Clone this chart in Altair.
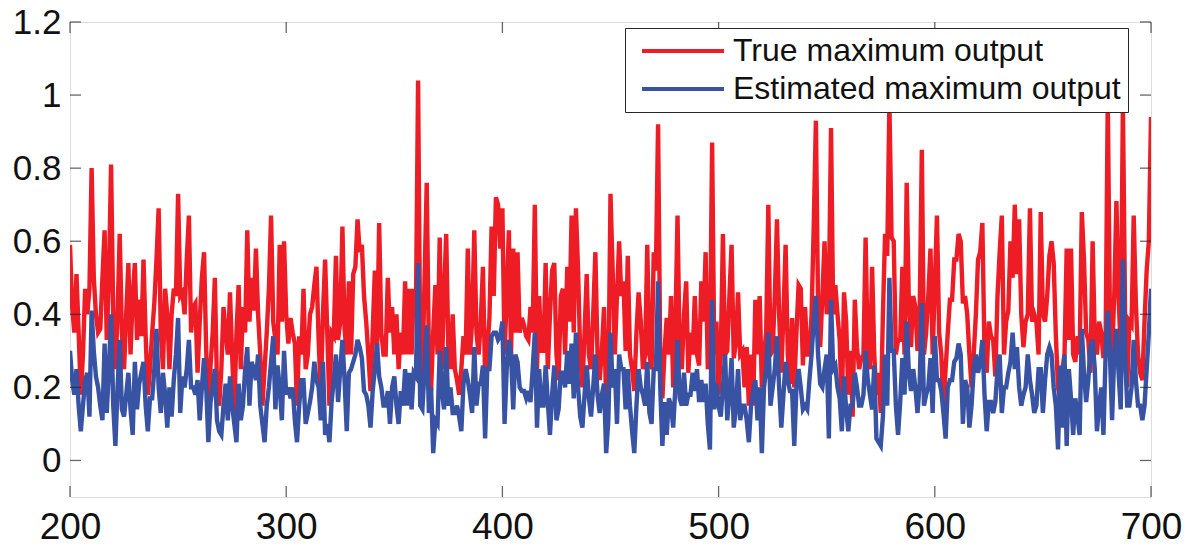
import altair as alt
import pandas as pd

x_vals = list(range(200, 701))

true_max = [
    0.59, 0.42, 0.35, 0.51, 0.35, 0.18, 0.29, 0.47, 0.40, 0.47,
    0.80, 0.50, 0.40, 0.35, 0.36, 0.50, 0.63, 0.33, 0.50, 0.81,
    0.40, 0.25, 0.40, 0.62, 0.35, 0.25, 0.40, 0.54, 0.29, 0.45,
    0.54, 0.33, 0.44, 0.34, 0.55, 0.34, 0.18, 0.25, 0.35, 0.43,
    0.55, 0.69, 0.35, 0.25, 0.47, 0.40, 0.25, 0.40, 0.47, 0.45,
    0.73, 0.45, 0.46, 0.40, 0.55, 0.67, 0.35, 0.42, 0.43, 0.24,
    0.38, 0.50, 0.57, 0.30, 0.13, 0.26, 0.35, 0.50, 0.20, 0.15,
    0.25, 0.42, 0.35, 0.29, 0.46, 0.29, 0.13, 0.35, 0.48, 0.25,
    0.42, 0.35, 0.63, 0.38, 0.50, 0.41, 0.58, 0.40, 0.29, 0.15,
    0.25, 0.35, 0.47, 0.67, 0.38, 0.33, 0.29, 0.59, 0.38, 0.60,
    0.40, 0.32, 0.39, 0.35, 0.32, 0.15, 0.34, 0.29, 0.47, 0.25,
    0.29, 0.40, 0.42, 0.48, 0.53, 0.33, 0.18, 0.40, 0.55, 0.35,
    0.15, 0.35, 0.34, 0.56, 0.33, 0.38, 0.64, 0.36, 0.29, 0.49,
    0.29, 0.51, 0.53, 0.66, 0.57, 0.59, 0.45, 0.38, 0.29, 0.19,
    0.35, 0.52, 0.29, 0.65, 0.35, 0.29, 0.29, 0.50, 0.35, 0.42,
    0.29, 0.40, 0.25, 0.35, 0.29, 0.49, 0.29, 0.47, 0.29, 0.47,
    0.41, 1.04, 0.29, 0.22, 0.50, 0.76, 0.29, 0.19, 0.35, 0.48,
    0.29, 0.61, 0.25, 0.45, 0.62, 0.31, 0.25, 0.40, 0.25, 0.22,
    0.18, 0.25, 0.34, 0.29, 0.58, 0.29, 0.38, 0.63, 0.35, 0.29,
    0.38, 0.53, 0.22, 0.30, 0.39, 0.64, 0.45, 0.72, 0.70, 0.58,
    0.69, 0.29, 0.45, 0.63, 0.29, 0.58, 0.35, 0.57, 0.35, 0.39,
    0.37, 0.34, 0.33, 0.42, 0.35, 0.70, 0.25, 0.45, 0.30, 0.30,
    0.54, 0.25, 0.40, 0.52, 0.54, 0.29, 0.22, 0.45, 0.47, 0.29,
    0.53, 0.38, 0.67, 0.35, 0.69, 0.52, 0.29, 0.20, 0.35, 0.51,
    0.29, 0.25, 0.40, 0.57, 0.29, 0.22, 0.30, 0.42, 0.15, 0.20,
    0.73, 0.52, 0.29, 0.45, 0.60, 0.45, 0.49, 0.30, 0.56, 0.29,
    0.25, 0.19, 0.35, 0.46, 0.38, 0.25, 0.29, 0.59, 0.29, 0.25,
    0.57, 0.52, 0.92, 0.29, 0.17, 0.30, 0.39, 0.29, 0.45, 0.20,
    0.36, 0.67, 0.29, 0.25, 0.40, 0.49, 0.24, 0.35, 0.29, 0.45,
    0.29, 0.26, 0.49, 0.38, 0.57, 0.25, 0.29, 0.87, 0.29, 0.38,
    0.18, 0.29, 0.62, 0.29, 0.30, 0.45, 0.59, 0.28, 0.32, 0.46,
    0.29, 0.30, 0.20, 0.31, 0.15, 0.29, 0.15, 0.44, 0.29, 0.45,
    0.20, 0.29, 0.35, 0.70, 0.29, 0.30, 0.45, 0.66, 0.40, 0.24,
    0.40, 0.59, 0.29, 0.21, 0.39, 0.20, 0.35, 0.48, 0.47, 0.26,
    0.42, 0.29, 0.29, 0.40, 0.64, 0.93, 0.43, 0.31, 0.45, 0.60,
    0.40, 0.45, 0.91, 0.40, 0.48, 0.40, 0.33, 0.14, 0.46, 0.38,
    0.18, 0.30, 0.12, 0.44, 0.31, 0.25, 0.28, 0.29, 0.61, 0.29,
    0.25, 0.53, 0.29, 0.18, 0.24, 0.13, 0.40, 0.62, 0.56, 0.98,
    0.61, 0.60, 0.29, 0.33, 0.33, 0.53, 0.29, 0.76, 0.43, 0.31,
    0.45, 0.42, 0.30, 0.40, 0.85, 0.29, 0.35, 0.45, 0.58, 0.29,
    0.48, 0.67, 0.35, 0.29, 0.15, 0.25, 0.35, 0.44, 0.44, 0.55,
    0.55, 0.62, 0.60, 0.43, 0.45, 0.40, 0.29, 0.20, 0.29, 0.40,
    0.55, 0.57, 0.65, 0.29, 0.24, 0.38, 0.34, 0.33, 0.23, 0.45,
    0.57, 0.67, 0.29, 0.38, 0.41, 0.60, 0.50, 0.70, 0.51, 0.66,
    0.40, 0.31, 0.38, 0.40, 0.69, 0.38, 0.40, 0.38, 0.29, 0.68,
    0.40, 0.38, 0.45, 0.56, 0.60, 0.54, 0.34, 0.20, 0.17, 0.25,
    0.29, 0.58, 0.33, 0.58, 0.29, 0.27, 0.34, 0.29, 0.68, 0.55,
    0.35, 0.33, 0.24, 0.60, 0.33, 0.29, 0.38, 0.35, 0.28, 0.32,
    0.99, 0.40, 0.29, 0.45, 0.71, 0.45, 0.30, 0.98, 0.41, 0.20,
    0.38, 0.37, 0.67, 0.43, 0.29, 0.24, 0.22, 0.38, 0.52, 0.60,
    0.94,
]

est_max = [
    0.30, 0.22, 0.18, 0.25, 0.15, 0.08, 0.15, 0.22, 0.24, 0.12,
    0.41, 0.30, 0.23, 0.20, 0.15, 0.11, 0.32, 0.13, 0.25, 0.40,
    0.15, 0.04, 0.20, 0.33, 0.14, 0.12, 0.18, 0.24, 0.14, 0.07,
    0.27, 0.14, 0.21, 0.24, 0.27, 0.15, 0.08, 0.17, 0.17, 0.25,
    0.36, 0.20, 0.13, 0.24, 0.18, 0.09, 0.20, 0.12, 0.22, 0.29,
    0.39, 0.13, 0.23, 0.20, 0.25, 0.33, 0.20, 0.20, 0.18, 0.22,
    0.11, 0.20, 0.28, 0.20, 0.05, 0.16, 0.20, 0.25, 0.11, 0.08,
    0.07, 0.15, 0.21, 0.11, 0.23, 0.15, 0.10, 0.05, 0.21, 0.11,
    0.15, 0.25, 0.31, 0.15, 0.27, 0.25, 0.22, 0.29, 0.15, 0.10,
    0.05, 0.15, 0.20, 0.27, 0.34, 0.14, 0.26, 0.20, 0.11, 0.30,
    0.18, 0.20, 0.17, 0.20, 0.11, 0.05, 0.15, 0.22, 0.22, 0.10,
    0.13, 0.16, 0.20, 0.27, 0.22, 0.20, 0.11, 0.27, 0.07, 0.10,
    0.05, 0.16, 0.22, 0.29, 0.16, 0.25, 0.33, 0.22, 0.08, 0.24,
    0.25, 0.27, 0.29, 0.33, 0.31, 0.28, 0.19, 0.18, 0.15, 0.09,
    0.19, 0.25, 0.32, 0.23, 0.20, 0.15, 0.15, 0.19, 0.10, 0.20,
    0.23, 0.15, 0.10, 0.19, 0.15, 0.25, 0.15, 0.24, 0.14, 0.24,
    0.23, 0.54, 0.15, 0.14, 0.25, 0.37, 0.13, 0.20, 0.02, 0.11,
    0.10, 0.30, 0.19, 0.14, 0.31, 0.15, 0.20, 0.13, 0.13, 0.15,
    0.12, 0.08, 0.21, 0.25, 0.22, 0.18, 0.13, 0.31, 0.15, 0.21,
    0.21, 0.26, 0.06, 0.25, 0.25, 0.34, 0.35, 0.35, 0.33, 0.34,
    0.38, 0.10, 0.25, 0.33, 0.29, 0.14, 0.29, 0.27, 0.20, 0.19,
    0.19, 0.17, 0.19, 0.16, 0.25, 0.35, 0.09, 0.25, 0.15, 0.15,
    0.26, 0.16, 0.07, 0.18, 0.26, 0.11, 0.14, 0.24, 0.24, 0.20,
    0.30, 0.21, 0.32, 0.17, 0.35, 0.20, 0.12, 0.09, 0.18, 0.26,
    0.17, 0.12, 0.20, 0.29, 0.18, 0.13, 0.18, 0.21, 0.02, 0.11,
    0.35, 0.20, 0.25, 0.10, 0.29, 0.25, 0.25, 0.14, 0.25, 0.15,
    0.08, 0.02, 0.15, 0.25, 0.20, 0.18, 0.15, 0.27, 0.13, 0.10,
    0.25, 0.25, 0.49, 0.20, 0.04, 0.16, 0.07, 0.17, 0.15, 0.09,
    0.20, 0.33, 0.17, 0.15, 0.24, 0.15, 0.18, 0.18, 0.24, 0.19,
    0.25, 0.16, 0.22, 0.16, 0.21, 0.10, 0.03, 0.44, 0.14, 0.21,
    0.15, 0.12, 0.20, 0.29, 0.11, 0.18, 0.28, 0.09, 0.14, 0.25,
    0.11, 0.15, 0.15, 0.11, 0.05, 0.15, 0.19, 0.22, 0.11, 0.20,
    0.02, 0.20, 0.25, 0.35, 0.15, 0.20, 0.25, 0.34, 0.20, 0.09,
    0.18, 0.27, 0.22, 0.19, 0.19, 0.04, 0.20, 0.25, 0.20, 0.14,
    0.15, 0.14, 0.22, 0.29, 0.38, 0.45, 0.29, 0.21, 0.20, 0.25,
    0.29, 0.06, 0.44, 0.25, 0.26, 0.20, 0.17, 0.08, 0.23, 0.14,
    0.08, 0.15, 0.15, 0.24, 0.20, 0.15, 0.15, 0.18, 0.30, 0.22,
    0.18, 0.14, 0.26, 0.06, 0.05, 0.04, 0.12, 0.29, 0.15, 0.50,
    0.30, 0.30, 0.15, 0.07, 0.16, 0.28, 0.18, 0.38, 0.24, 0.19,
    0.25, 0.20, 0.13, 0.21, 0.43, 0.15, 0.18, 0.20, 0.28, 0.13,
    0.34, 0.22, 0.22, 0.19, 0.13, 0.06, 0.20, 0.22, 0.22, 0.27,
    0.28, 0.32, 0.29, 0.10, 0.22, 0.20, 0.09, 0.15, 0.25, 0.29,
    0.24, 0.27, 0.33, 0.18, 0.08, 0.16, 0.16, 0.13, 0.16, 0.25,
    0.29, 0.13, 0.20, 0.20, 0.24, 0.27, 0.35, 0.25, 0.31, 0.20,
    0.15, 0.18, 0.20, 0.29, 0.22, 0.18, 0.13, 0.15, 0.25, 0.25,
    0.13, 0.22, 0.29, 0.31, 0.29, 0.20, 0.15, 0.03, 0.26, 0.09,
    0.29, 0.04, 0.25, 0.17, 0.07, 0.17, 0.12, 0.07, 0.36, 0.24,
    0.16, 0.22, 0.31, 0.33, 0.25, 0.08, 0.15, 0.20, 0.07, 0.29,
    0.41, 0.29, 0.11, 0.29, 0.36, 0.24, 0.14, 0.55, 0.29, 0.15,
    0.15, 0.20, 0.33, 0.22, 0.15, 0.15, 0.11, 0.15, 0.25, 0.35,
    0.47,
]

series_names = ["True maximum output", "Estimated maximum output"]
series_colors = ["#EE1C25", "#3852A4"]
x_ticks = [200, 300, 400, 500, 600, 700]
y_ticks = [0, 0.2, 0.4, 0.6, 0.8, 1.0, 1.2]

n = len(x_vals)
df = pd.DataFrame({
    "x": x_vals + x_vals,
    "y": true_max + est_max,
    "series": [series_names[0]] * n + [series_names[1]] * n,
})
xt_df = pd.DataFrame({"x": x_ticks})
yt_df = pd.DataFrame({"y": y_ticks})

W, H = 1081, 475
FONT = "Liberation Sans"
INK = "#262626"
LW = 4.4

x_enc = alt.X(
    "x:Q",
    scale=alt.Scale(domain=[200, 700], nice=False, zero=False),
    axis=alt.Axis(values=x_ticks, title=None, ticks=False, domain=False, grid=False,
                  labelFontSize=37, labelFont=FONT, labelColor="#111111",
                  labelPadding=12, labelFlush=False),
)
y_enc = alt.Y(
    "y:Q",
    scale=alt.Scale(domain=[-0.1, 1.2], nice=False, zero=False),
    axis=alt.Axis(values=y_ticks, title=None, ticks=False, domain=False, grid=False,
                  format="~g", labelFontSize=35, labelFont=FONT, labelColor="#111111",
                  labelPadding=9, labelFlush=False),
)
color_enc = alt.Color(
    "series:N",
    scale=alt.Scale(domain=series_names, range=series_colors),
    legend=alt.Legend(
        title=None, orient="none", legendX=555, legendY=6, direction="vertical",
        symbolType="M-4,0L4,0", symbolSize=420, symbolStrokeWidth=4,
        symbolOffset=35, labelOffset=34, labelFontSize=32, labelFont=FONT,
        labelColor="#111111", labelLimit=600, rowPadding=6, padding=7,
        strokeColor=INK, fillColor="white", cornerRadius=0,
    ),
)

red = alt.Chart(df).transform_filter(
    alt.datum.series == series_names[0]
).mark_line(strokeWidth=LW, clip=True).encode(x=x_enc, y=y_enc, color=color_enc)

blue = alt.Chart(df).transform_filter(
    alt.datum.series == series_names[1]
).mark_line(strokeWidth=LW, clip=True).encode(x="x:Q", y="y:Q", color="series:N")

tick_len = 11
bottom_ticks = alt.Chart(xt_df).mark_tick(size=tick_len, thickness=1.3, color=INK).encode(
    x="x:Q", y=alt.value(H - tick_len / 2))
top_ticks = alt.Chart(xt_df).mark_tick(size=tick_len, thickness=1.3, color=INK).encode(
    x="x:Q", y=alt.value(tick_len / 2))
left_ticks = alt.Chart(yt_df).mark_tick(size=tick_len, thickness=1.3, color=INK).encode(
    y="y:Q", x=alt.value(tick_len / 2))
right_ticks = alt.Chart(yt_df).mark_tick(size=tick_len, thickness=1.3, color=INK).encode(
    y="y:Q", x=alt.value(W - tick_len / 2))

chart = alt.layer(red, blue, bottom_ticks, top_ticks, left_ticks, right_ticks).properties(
    width=W, height=H,
    autosize=alt.AutoSizeParams(type="none"),
    padding={"left": 62, "top": 14, "right": 40, "bottom": 50},
).configure_view(
    stroke=INK, strokeWidth=1.4
).configure(background="white")

chart.save("out.html", embed_options={"renderer": "svg", "actions": False})
